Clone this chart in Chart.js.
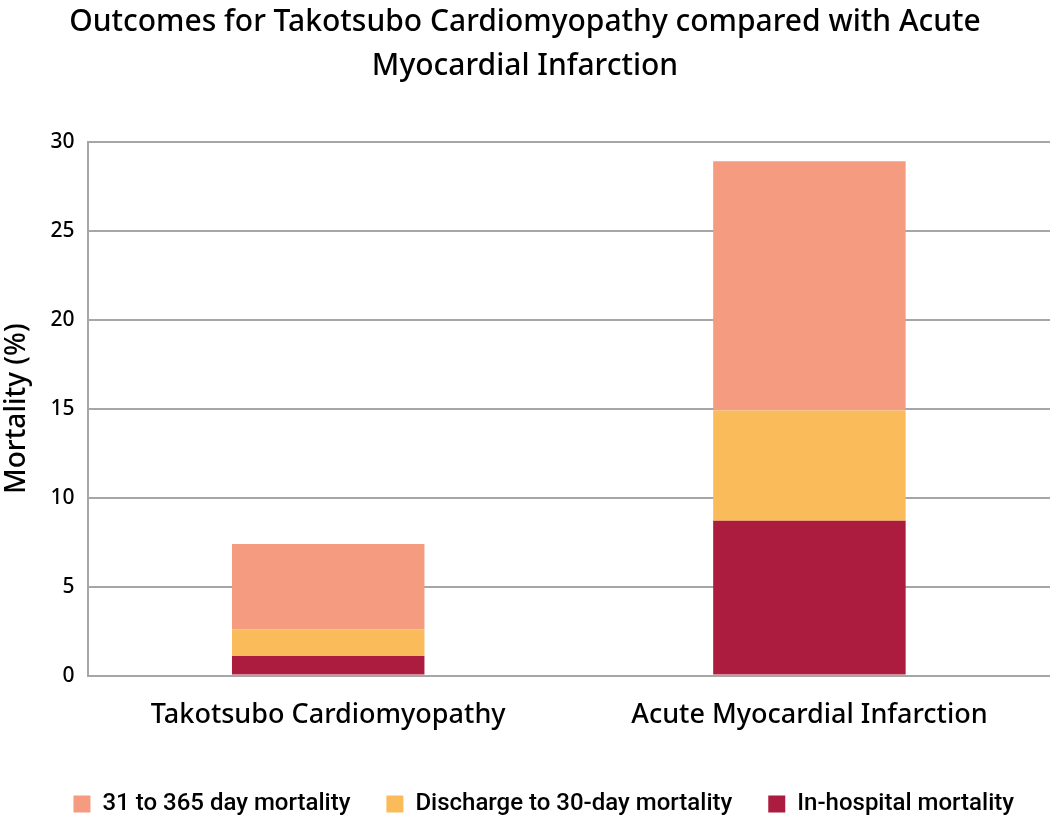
<!DOCTYPE html>
<html>
<head>
<meta charset="utf-8">
<script src="https://cdn.jsdelivr.net/npm/chart.js@4/dist/chart.umd.min.js"></script>
<style>
  html, body { margin: 0; padding: 0; background: #fff; }
  #wrap { width: 1050px; height: 820px; }
</style>
</head>
<body>
<div id="wrap"><canvas id="outcomes"></canvas></div>
<script>
const categories = ["Takotsubo Cardiomyopathy", "Acute Myocardial Infarction"];
const inHospital = [1.1, 8.7];
const dischargeTo30 = [1.5, 6.2];
const day31to365 = [4.8, 14.0];
const yTicks = [0, 5, 10, 15, 20, 25, 30];

const gridGray = "#a6a6a6";

function createOutcomesChart() {
    const ctx = document.getElementById("outcomes").getContext("2d");
    window.outcomesChart = new Chart(ctx, {
        type: "bar",
        data: {
            labels: categories,
            datasets: [
                {
                    label: "In-hospital mortality",
                    data: inHospital,
                    backgroundColor: "#ab1c3f",
                },
                {
                    label: "Discharge to 30-day mortality",
                    data: dischargeTo30,
                    backgroundColor: "#fabc5a",
                },
                {
                    label: "31 to 365 day mortality",
                    data: day31to365,
                    backgroundColor: "#f49b80",
                },
            ],
        },
        options: {
            responsive: true,
            maintainAspectRatio: false,
            animation: false,
            layout: { padding: { left: 0, right: 0, top: 0, bottom: -6 } },
            datasets: {
                bar: { barPercentage: 0.4, categoryPercentage: 1.0 },
            },
            plugins: {
                title: {
                    display: true,
                    text: [
                        "Outcomes for Takotsubo Cardiomyopathy compared with Acute",
                        "Myocardial Infarction",
                    ],
                    color: "#000",
                    font: { family: "'Noto Sans'", size: 30, weight: 500, lineHeight: 1.48 },
                    padding: { top: 0, bottom: 53 },
                },
                legend: {
                    position: "bottom",
                    align: "end",
                    reverse: true,
                    labels: {
                        color: "#000",
                        boxWidth: 17,
                        boxHeight: 17,
                        padding: 36,
                        font: { family: "Roboto", size: 24, weight: 500 },
                    },
                },
                tooltip: { enabled: false },
            },
            scales: {
                x: {
                    stacked: true,
                    grid: { display: false, drawTicks: false },
                    border: { display: true, color: gridGray, width: 2 },
                    ticks: {
                        color: "#000",
                        padding: 24,
                        font: { family: "'Noto Sans'", size: 27, weight: 500 },
                    },
                },
                y: {
                    stacked: true,
                    min: 0,
                    max: 30,
                    afterBuildTicks: (axis) => {
                        axis.ticks = yTicks.map((v) => ({ value: v }));
                    },
                    grid: { color: gridGray, lineWidth: 2, drawTicks: false },
                    border: { display: true, color: gridGray, width: 2 },
                    ticks: {
                        color: "#000",
                        padding: 13,
                        font: { family: "'Noto Sans'", size: 21, weight: 500 },
                    },
                    title: {
                        display: true,
                        text: "Mortality (%)",
                        color: "#000",
                        padding: { top: 0, bottom: 4 },
                        font: { family: "'Noto Sans'", size: 28, weight: 500 },
                    },
                },
            },
        },
    });
}

createOutcomesChart();
</script>
</body>
</html>
